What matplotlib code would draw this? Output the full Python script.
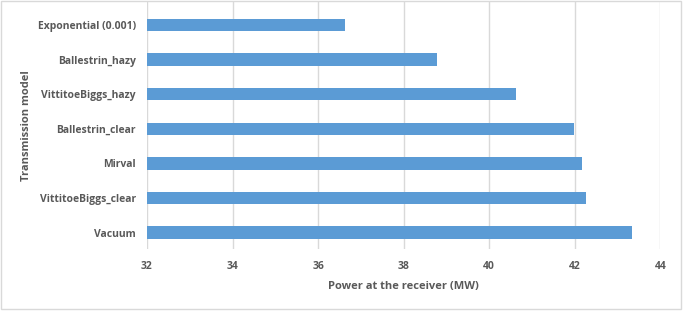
# Potencia en el receptor por modelo de transmision
import matplotlib.pyplot as plt
from matplotlib.patches import Rectangle

# Datos
modelos = ['Vacuum', 'VittitoeBiggs_clear', 'Mirval', 'Ballestrin_clear',
           'VittitoeBiggs_hazy', 'Ballestrin_hazy', 'Exponential (0.001)']
potencia = [43.33, 42.26, 42.16, 41.98, 40.62, 38.78, 36.63]  # MW
ticks_x = [32, 34, 36, 38, 40, 42, 44]

gris = '#595959'
plt.rcParams['font.family'] = ['Open Sans', 'DejaVu Sans']

fig = plt.figure(figsize=(6.83, 3.13), dpi=100)
ax = fig.add_axes([0.2152, 0.2045, 0.7516, 0.7891])

pos = list(range(len(modelos)))
ax.barh(pos, potencia, height=0.36, color='#5b9bd5', zorder=3)

ax.set_xlim(32, 44)
ax.set_ylim(-0.47, 6.665)
ax.set_xticks(ticks_x)
ax.set_yticks(pos)
ax.set_yticklabels(modelos)
ax.grid(axis='x', color='#d9d9d9', linewidth=1, zorder=0)
for s in ax.spines.values():
    s.set_visible(False)
ax.tick_params(length=0, colors=gris, labelsize=7.5)
ax.tick_params(axis='y', pad=8)
ax.tick_params(axis='x', pad=9)
for lab in ax.get_xticklabels() + ax.get_yticklabels():
    lab.set_fontweight('bold')

ax.set_xlabel('Power at the receiver (MW)', color=gris, fontsize=8,
              fontweight='bold', labelpad=6)
ax.set_ylabel('Transmission model', color=gris, fontsize=8,
              fontweight='bold', labelpad=4)

# borde del grafico
fig.patches.append(Rectangle((0.0015, 0.013), 0.996, 0.984, transform=fig.transFigure,
                             fill=False, edgecolor='#d9d9d9', linewidth=1))

fig.savefig('out.png', dpi=100)
